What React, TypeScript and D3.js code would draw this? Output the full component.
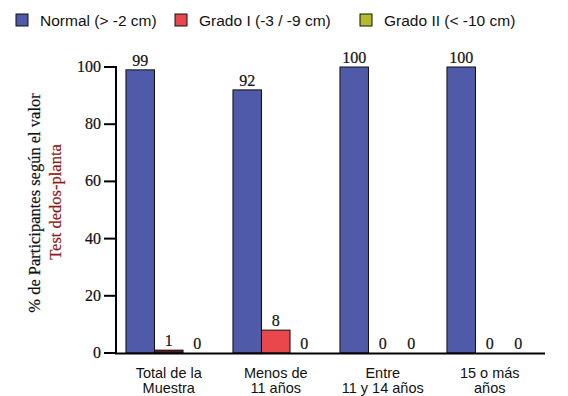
import React from "react";
import * as d3 from "d3";

const categories = [["Total de la", "Muestra"], ["Menos de", "11 años"], ["Entre", "11 y 14 años"], ["15 o más", "años"]];
const seriesNames = ["Normal (> -2 cm)", "Grado I (-3 / -9 cm)", "Grado II (< -10 cm)"];
const seriesColors = ["#4F5AA8", "#E8474C", "#B3BC2E"];
const normal = [99, 92, 100, 100];
const grado1 = [1, 8, 0, 0];
const grado2 = [0, 0, 0, 0];
const yTicks = [0, 20, 40, 60, 80, 100];

const W = 568, H = 396;
const serif = "'Liberation Serif', serif";
const sans = "'Liberation Sans', Arial, sans-serif";

export default function App() {
  const series = [normal, grado1, grado2];
  const y = d3.scaleLinear().domain([0, 100]).range([353, 67]);
  const keys = categories.map((c) => c.join(" "));
  const x0 = d3.scaleBand<string>().domain(keys).range([116, 542.5]).paddingInner(0.2).paddingOuter(0.093);
  const x1 = d3.scaleBand<number>().domain([0, 1, 2]).range([0, x0.bandwidth()]);
  const legendX = [16, 175, 360];
  const serifStyle = { fontFamily: serif, stroke: "#111", strokeWidth: 0.2 };
  return (
    <svg width={W} height={H} style={{ position: "absolute", left: 0, top: 0, background: "#fff" }}>
      {seriesNames.map((n, i) => (
        <g key={n}>
          <rect x={legendX[i]} y={14} width={12} height={12} fill={seriesColors[i]} stroke="#111" strokeWidth={1} />
          <text x={legendX[i] + 24} y={26} fontFamily={sans} fontSize={15.5} fill="#111">{n}</text>
        </g>
      ))}
      {keys.map((k, ci) => (
        <g key={k}>
          {series.map((s, si) => {
            const v = s[ci];
            const bx = (x0(k) as number) + (x1(si) as number);
            const bw = x1.bandwidth();
            return (
              <g key={si}>
                {v > 0 && (
                  <rect x={bx} y={y(v)} width={bw} height={y(0) - y(v)} fill={si === 1 && v < 2 ? "#5a1a1a" : seriesColors[si]} stroke="#111" strokeWidth={1} />
                )}
                <text x={bx + bw / 2} y={y(v) - 4} textAnchor="middle" style={{ ...serifStyle, fontSize: 16 }} fill="#111">{v}</text>
              </g>
            );
          })}
          <text textAnchor="middle" fontFamily={sans} fontSize={14.5} fill="#111">
            <tspan x={(x0(k) as number) + x0.bandwidth() / 2} y={378}>{categories[ci][0]}</tspan>
            <tspan x={(x0(k) as number) + x0.bandwidth() / 2} y={393}>{categories[ci][1]}</tspan>
          </text>
        </g>
      ))}
      <line x1={116} x2={116} y1={66} y2={354} stroke="#000" strokeWidth={2} />
      <line x1={115} x2={545} y1={353.5} y2={353.5} stroke="#000" strokeWidth={2} />
      {yTicks.map((t) => (
        <g key={t}>
          <line x1={104} x2={116} y1={y(t)} y2={y(t)} stroke="#000" strokeWidth={2} />
          <text x={101} y={y(t) + 5} textAnchor="end" style={{ ...serifStyle, fontSize: 16 }} fill="#111">{t}</text>
        </g>
      ))}
      <text transform="translate(40,203) rotate(-90)" textAnchor="middle" style={{ ...serifStyle, fontSize: 16.5 }} fill="#111">% de Participantes según el valor</text>
      <text transform="translate(61,202) rotate(-90)" textAnchor="middle" style={{ ...serifStyle, stroke: "#8B1A1A", fontSize: 16.5 }} fill="#8B1A1A">Test dedos-planta</text>
    </svg>
  );
}
